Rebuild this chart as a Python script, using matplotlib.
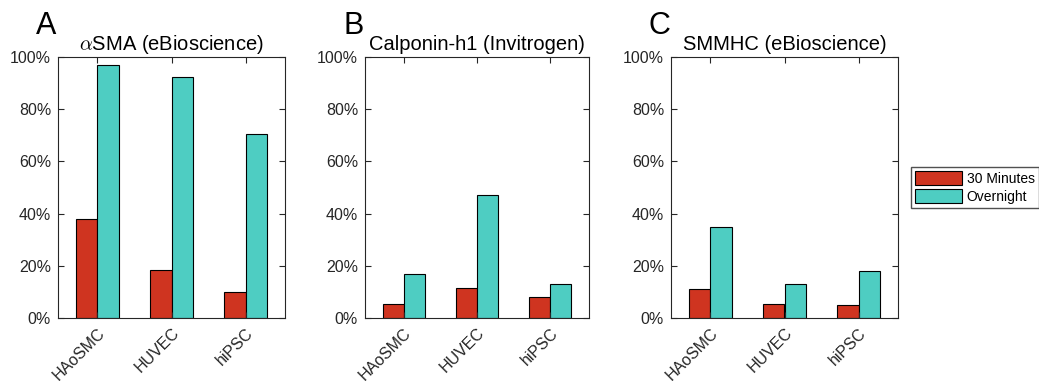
import matplotlib
matplotlib.use("Agg")
import matplotlib.pyplot as plt
import numpy as np
from matplotlib.ticker import PercentFormatter

categories = ["HAoSMC", "HUVEC", "hiPSC"]
titles = [r"$\alpha$SMA (eBioscience)", "Calponin-h1 (Invitrogen)", "SMMHC (eBioscience)"]
letters = ["A", "B", "C"]
min30 = [[38, 18.5, 9.8], [5.5, 11.5, 8], [11, 5.5, 5]]
overnight = [[97, 92.5, 70.5], [17, 47, 13], [35, 13, 18]]
series_names = ["30 Minutes", "Overnight"]

red = "#CF3420"
teal = "#4ECDC2"

plt.rcParams['font.family'] = ['Liberation Sans', 'DejaVu Sans']
plt.rcParams['mathtext.fontset'] = 'cm'

W, H = 1039, 381
fig = plt.figure(figsize=(W/100, H/100), dpi=100)

lefts = [58, 365, 671]
rights = [285, 589, 898]
top, bottom = 57, 318

x = np.arange(1, 4)
bw = 0.29
handles = None
for i in range(3):
    ax = fig.add_axes([lefts[i]/W, 1 - bottom/H, (rights[i]-lefts[i])/W, (bottom-top)/H])
    b1 = ax.bar(x - bw/2, min30[i], bw, color=red, edgecolor="black", linewidth=0.8)
    b2 = ax.bar(x + bw/2, overnight[i], bw, color=teal, edgecolor="black", linewidth=0.8)
    handles = [b1, b2]
    ax.set_xlim(0.47, 3.53)
    ax.set_ylim(0, 100)
    ax.set_yticks([0, 20, 40, 60, 80, 100])
    ax.yaxis.set_major_formatter(PercentFormatter(decimals=0))
    ax.set_xticks(x)
    ax.set_xticklabels(categories, rotation=45, ha="right", rotation_mode="anchor")
    ax.tick_params(direction="in", top=True, right=True, length=4, width=0.8, colors="#262626")
    ax.tick_params(axis="x", labelsize=11.5, pad=5)
    ax.tick_params(axis="y", labelsize=11.5, pad=5)
    for lab in ax.get_xticklabels() + ax.get_yticklabels():
        lab.set_color("#262626")
    for s in ax.spines.values():
        s.set_linewidth(0.8)
        s.set_color("#262626")
    ax.set_title(titles[i], fontsize=14.5, pad=5)
    fig.text((lefts[i] - 22)/W, 1 - 26/H, letters[i], fontsize=22, ha="left", va="center")

fig.legend(handles, series_names, loc="upper left", bbox_to_anchor=(911/W, 1 - 167/H),
           fontsize=10, frameon=True, fancybox=False, edgecolor="#262626",
           handlelength=3.4, handleheight=1.15, borderpad=0.3, labelspacing=0.25,
           handletextpad=0.3, borderaxespad=0)

fig.savefig("out.png", dpi=100)
